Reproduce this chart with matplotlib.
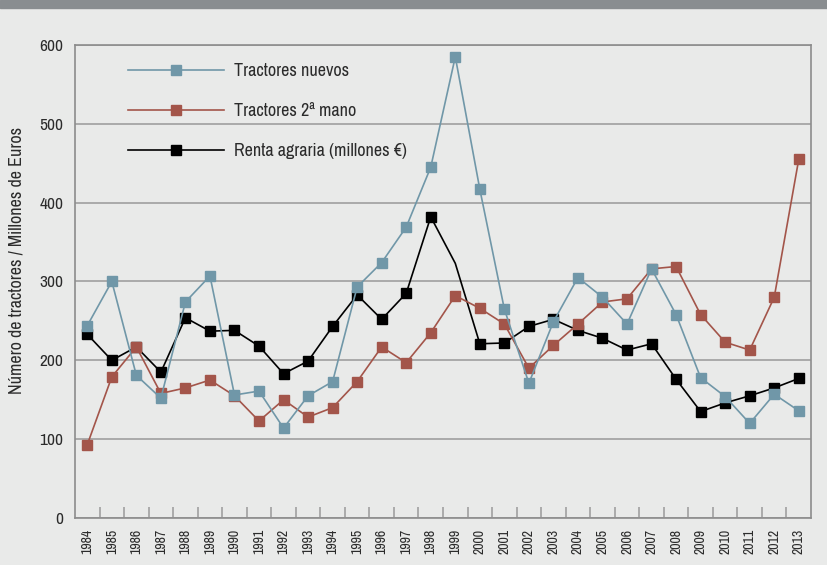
import numpy as np
import matplotlib
matplotlib.use("Agg")
import matplotlib.pyplot as plt
import matplotlib.ticker as ticker
from matplotlib.patches import Rectangle

plt.rcParams['font.family'] = ['Archivo Narrow', 'DejaVu Sans']

years = list(range(1984, 2014))

# Tractores nuevos
nuevos = [244, 300, 181, 152, 274, 307, 156, 161, 114, 155,
          173, 293, 324, 369, 445, 585, 417, 265, 171, 249,
          305, 280, 246, 316, 258, 178, 154, 120, 157, 136]

# Tractores de segunda mano
segunda = [93, 179, 217, 158, 165, 175, 155, 123, 150, 128,
           140, 173, 217, 197, 235, 282, 266, 246, 190, 219,
           246, 274, 278, 316, 319, 258, 223, 213, 280, 455]

# Renta agraria (millones de euros)
renta = [233, 200, 217, 185, 254, 237, 238, 218, 183, 199,
         243, 283, 252, 285, 382, 323, 221, 222, 243, 252,
         238, 228, 213, 221, 176, 135, 146, 155, 165, 177]

bg = '#e9eae9'
text_col = '#2b2b2b'
c_nuevos = '#7097a8'
c_segunda = '#a3554a'
c_renta = '#000000'

fig = plt.figure(figsize=(8.28, 5.65), dpi=100, facecolor=bg)
ax = fig.add_axes([0.0906, 0.0832, 0.8889, 0.8372])
ax.set_facecolor(bg)

# franja gris superior
fig.patches.append(Rectangle((0, 0.985), 1, 0.015, transform=fig.transFigure,
                             color='#898d90', zorder=0))

x = np.arange(len(years))

# la renta de 1999 no tiene marcador
marks = [i for i in range(len(years)) if years[i] != 1999]
ax.plot(x, renta, color=c_renta, lw=1.2, marker='s', ms=7, markevery=marks,
        label='Renta agraria (millones €)', zorder=3)
ax.plot(x, segunda, color=c_segunda, lw=1.2, marker='s', ms=7,
        label='Tractores 2ª mano', zorder=4)
ax.plot(x, nuevos, color=c_nuevos, lw=1.2, marker='s', ms=7,
        label='Tractores nuevos', zorder=5)

ax.set_xlim(-0.5, len(years) - 0.5)
ax.set_ylim(0, 600)
ax.set_yticks(range(0, 601, 100))
ax.set_xticks(x)
ax.set_xticklabels([str(y) for y in years], rotation=90, fontsize=10, color=text_col)
ax.xaxis.set_minor_locator(ticker.FixedLocator(x[:-1] + 0.5))
ax.tick_params(axis='x', which='major', length=0, pad=8)
ax.tick_params(axis='x', which='minor', direction='in', length=8, color='#a0a0a0', width=1.2)
ax.tick_params(axis='y', length=0, labelsize=12.5, labelcolor=text_col, pad=8.5)

ax.grid(axis='y', color='#a5a5a5', lw=1.3, zorder=1)
for s in ax.spines.values():
    s.set_color('#8c8c8c')
    s.set_linewidth(1.2)

ax.set_ylabel('Número de tractores / Millones de Euros', fontsize=13, color=text_col)
ax.yaxis.set_label_coords(-0.069, 0.545)

h, l = ax.get_legend_handles_labels()
order = [2, 1, 0]
leg = ax.legend([h[i] for i in order], [l[i] for i in order], loc='upper left',
                bbox_to_anchor=(0.072, 0.962), frameon=False, fontsize=13,
                handlelength=5.3, handletextpad=0.55, labelspacing=1.33,
                borderpad=0, borderaxespad=0)
for t in leg.get_texts():
    t.set_color(text_col)

fig.savefig('out.png', dpi=100, facecolor=bg)
